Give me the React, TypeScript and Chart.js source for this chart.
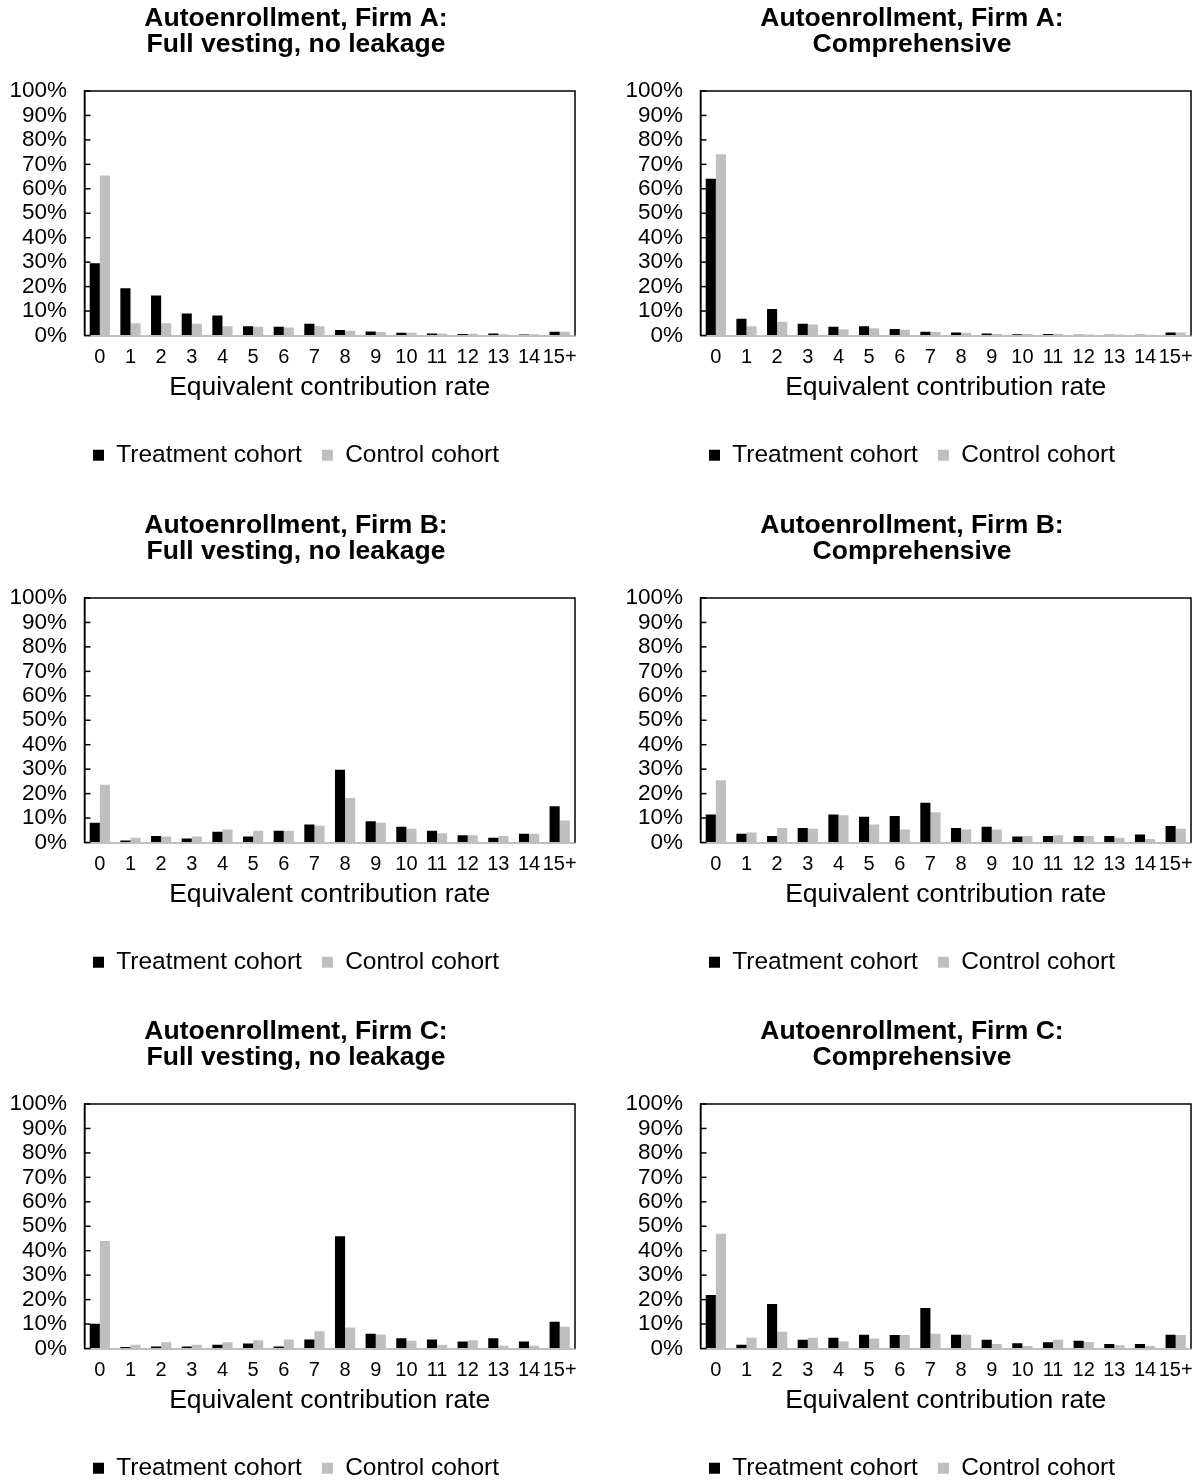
import React, { useEffect, useRef } from 'react';
import { Chart, registerables } from 'chart.js';

Chart.register(...registerables);

const categories = ['0', '1', '2', '3', '4', '5', '6', '7', '8', '9', '10', '11', '12', '13', '14', '15+'];
const seriesLabels = ['Treatment cohort', 'Control cohort'];
const xAxisTitle = 'Equivalent contribution rate';

const firmAFullTreatment = [29.6, 19.3, 16.4, 9.0, 8.2, 3.8, 3.6, 4.8, 2.2, 1.6, 1.1, 0.8, 0.6, 0.8, 0.4, 1.5];
const firmAFullControl = [65.4, 5.0, 5.0, 4.8, 3.8, 3.6, 3.3, 3.8, 1.9, 1.4, 1.1, 0.8, 0.7, 0.5, 0.5, 1.5];
const firmACompTreatment = [64.1, 6.8, 10.8, 4.8, 3.6, 3.8, 2.7, 1.5, 1.2, 0.8, 0.5, 0.6, 0.3, 0.3, 0.3, 1.2];
const firmACompControl = [74.1, 3.8, 5.6, 4.5, 2.6, 3.0, 2.4, 1.4, 1.1, 0.6, 0.6, 0.7, 0.4, 0.4, 0.3, 1.2];
const firmBFullTreatment = [8.1, 0.8, 2.7, 1.6, 4.4, 2.5, 4.8, 7.4, 29.8, 8.7, 6.4, 4.8, 3.0, 1.9, 3.6, 14.8];
const firmBFullControl = [23.6, 1.9, 2.5, 2.5, 5.3, 4.8, 4.8, 6.8, 18.2, 8.1, 5.6, 3.8, 3.0, 2.7, 3.6, 9.0];
const firmBCompTreatment = [11.5, 3.6, 2.7, 5.9, 11.5, 10.5, 10.8, 16.3, 5.9, 6.4, 2.5, 2.7, 2.7, 2.7, 3.3, 6.7];
const firmBCompControl = [25.5, 4.1, 5.9, 5.6, 11.1, 7.4, 5.3, 12.4, 5.3, 5.3, 2.7, 3.0, 2.7, 1.9, 1.4, 5.6];
const firmCFullTreatment = [10.1, 0.6, 0.8, 0.8, 1.5, 2.0, 0.8, 3.7, 45.9, 6.0, 4.2, 3.7, 2.9, 4.2, 2.9, 10.9];
const firmCFullControl = [44.0, 1.5, 2.6, 1.5, 2.6, 3.4, 3.7, 7.1, 8.6, 5.7, 3.2, 1.5, 3.4, 1.1, 1.1, 8.9];
const firmCCompTreatment = [21.9, 1.5, 18.2, 3.6, 4.4, 5.6, 5.5, 16.6, 5.6, 3.6, 2.1, 2.6, 3.2, 1.8, 1.8, 5.6];
const firmCCompControl = [46.9, 4.4, 6.8, 4.4, 3.0, 4.1, 5.5, 6.0, 5.6, 1.8, 1.0, 3.6, 2.7, 1.3, 1.0, 5.5];

const titleA1 = ['Autoenrollment, Firm A:', 'Full vesting, no leakage'];
const titleA2 = ['Autoenrollment, Firm A:', 'Comprehensive'];
const titleB1 = ['Autoenrollment, Firm B:', 'Full vesting, no leakage'];
const titleB2 = ['Autoenrollment, Firm B:', 'Comprehensive'];
const titleC1 = ['Autoenrollment, Firm C:', 'Full vesting, no leakage'];
const titleC2 = ['Autoenrollment, Firm C:', 'Comprehensive'];

const FONT = '"Liberation Sans", Arial, Helvetica, sans-serif';
const TREAT_COLOR = '#000000';
const CONTROL_COLOR = '#bfbfbf';
const CANVAS_W = 583;
const CANVAS_H = 507;
const HEADER_LEFT = 17;

const framePlugin = {
  id: 'frameAndInnerTicks',
  afterLayout(chart: any) {
    // center title and legend over the same span as the reference
    if (chart.titleBlock) chart.titleBlock.left = HEADER_LEFT;
    if (chart.legend) chart.legend.left = HEADER_LEFT;
  },
  afterDraw(chart: any) {
    const { ctx, chartArea, scales } = chart;
    const { left, right, top, bottom } = chartArea;
    ctx.save();
    ctx.strokeStyle = '#000';
    ctx.lineWidth = 1.5;
    ctx.beginPath();
    ctx.moveTo(left, bottom);
    ctx.lineTo(left, top);
    ctx.lineTo(right, top);
    ctx.lineTo(right, bottom);
    ctx.stroke();
    const y = scales.y;
    y.ticks.forEach((t: any) => {
      const py = y.getPixelForValue(t.value);
      ctx.beginPath();
      ctx.moveTo(left, py);
      ctx.lineTo(left + 6, py);
      ctx.stroke();
    });
    ctx.restore();
  },
};

function Panel(props: { title: string[]; treatment: number[]; control: number[]; left: number; top: number }) {
  const ref = useRef<HTMLCanvasElement | null>(null);
  useEffect(() => {
    if (!ref.current) return;
    const chart = new Chart(ref.current, {
      type: 'bar',
      data: {
        labels: categories,
        datasets: [
          { label: seriesLabels[0], data: props.treatment, backgroundColor: TREAT_COLOR, borderWidth: 0 },
          { label: seriesLabels[1], data: props.control, backgroundColor: CONTROL_COLOR, borderWidth: 0 },
        ],
      },
      options: {
        animation: false,
        responsive: false,
        maintainAspectRatio: false,
        datasets: { bar: { categoryPercentage: 0.66, barPercentage: 1.0 } },
        layout: { padding: { left: 0, right: 8, top: 0, bottom: 29.5 } },
        plugins: {
          title: {
            display: true,
            text: props.title,
            color: '#000',
            font: { family: FONT, size: 26.5, weight: 'bold', lineHeight: 1.0 },
            padding: { top: 5, bottom: 33 },
          },
          legend: {
            position: 'bottom',
            labels: {
              boxWidth: 11,
              boxHeight: 11,
              color: '#000',
              font: { family: FONT, size: 24.5 },
              padding: 20,
            },
          },
          tooltip: { enabled: false },
        },
        scales: {
          x: {
            grid: { display: false },
            border: { display: true, color: '#bfbfbf', width: 2 },
            ticks: { color: '#000', font: { family: FONT, size: 20 }, padding: 2, maxRotation: 0, autoSkip: false },
            title: {
              display: true,
              text: xAxisTitle,
              color: '#000',
              font: { family: FONT, size: 26.5 },
              padding: { top: 0, bottom: 19 },
            },
            afterFit: (s: any) => {
              s.height = 87.5;
            },
          },
          y: {
            min: 0,
            max: 100,
            grid: { drawOnChartArea: false, drawTicks: false },
            border: { display: true, color: '#000', width: 1.5 },
            ticks: {
              stepSize: 10,
              autoSkip: false,
              color: '#000',
              font: { family: FONT, size: 22.5 },
              padding: 17.5,
              callback: (v: any) => v + '%',
            },
            afterFit: (s: any) => {
              s.width = 84.5;
            },
          },
        },
      } as any,
      plugins: [framePlugin],
    });
    return () => chart.destroy();
  }, []);
  return (
    <canvas
      ref={ref}
      width={CANVAS_W}
      height={CANVAS_H}
      style={{ position: 'absolute', left: props.left, top: props.top, width: CANVAS_W, height: CANVAS_H }}
    />
  );
}

export default function App() {
  return (
    <div style={{ position: 'absolute', left: 0, top: 0, width: 1199, height: 1480, background: '#fff' }}>
      <Panel title={titleA1} treatment={firmAFullTreatment} control={firmAFullControl} left={0} top={0} />
      <Panel title={titleA2} treatment={firmACompTreatment} control={firmACompControl} left={616} top={0} />
      <Panel title={titleB1} treatment={firmBFullTreatment} control={firmBFullControl} left={0} top={507} />
      <Panel title={titleB2} treatment={firmBCompTreatment} control={firmBCompControl} left={616} top={507} />
      <Panel title={titleC1} treatment={firmCFullTreatment} control={firmCFullControl} left={0} top={1013} />
      <Panel title={titleC2} treatment={firmCCompTreatment} control={firmCCompControl} left={616} top={1013} />
    </div>
  );
}
